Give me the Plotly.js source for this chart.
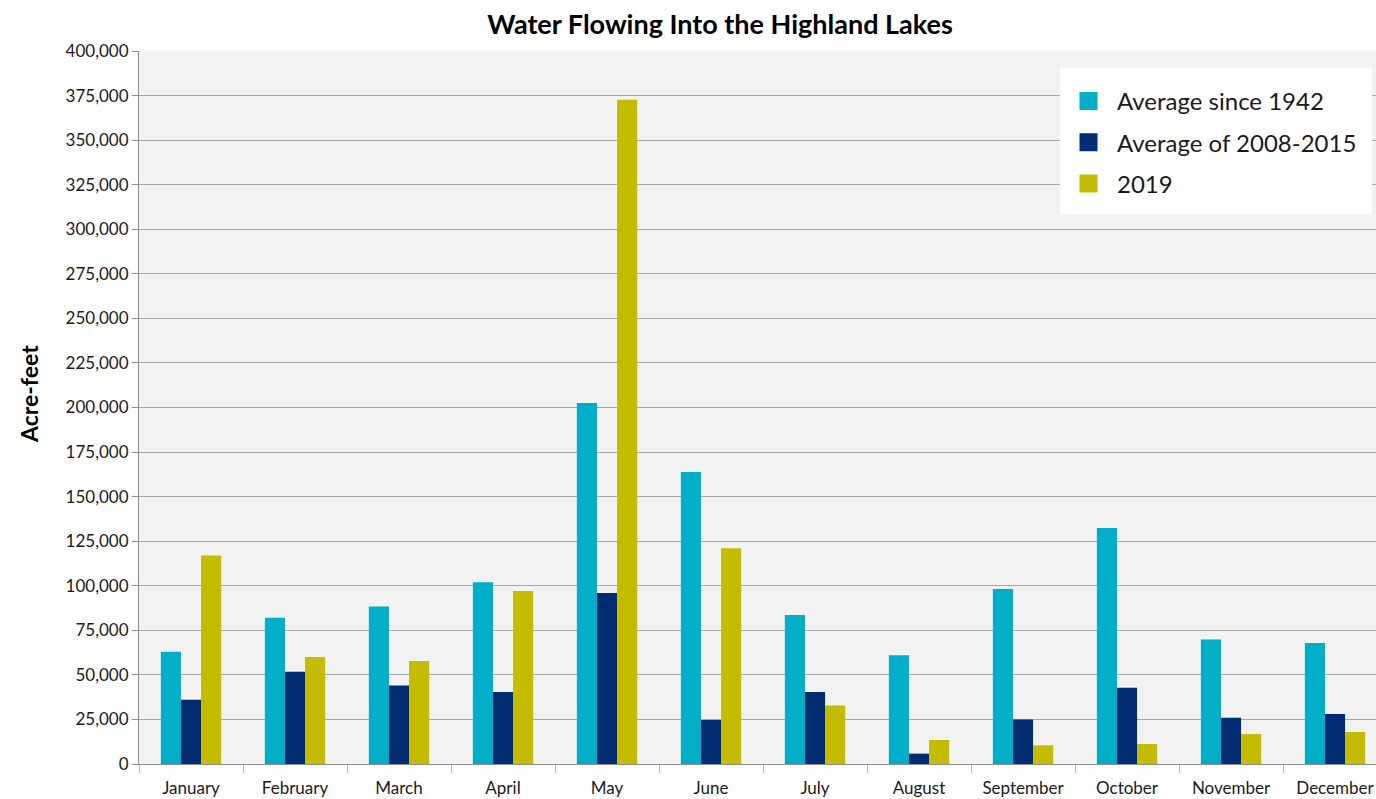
<!DOCTYPE html>
<html>
<head>
<meta charset="utf-8">
<script src="https://cdn.plot.ly/plotly-3.0.1.min.js"></script>
<style>html,body{margin:0;padding:0;background:#fff;}#chart{width:1376px;height:799px;}</style>
</head>
<body>
<div id="chart"></div>
<script>
const months = ["January","February","March","April","May","June","July","August","September","October","November","December"];
const avgSince1942 = [63000, 82000, 88300, 102000, 202500, 163800, 83600, 61000, 98200, 132400, 69800, 67900];
const avg2008to2015 = [36000, 51800, 44100, 40400, 96000, 24700, 40400, 5800, 25000, 42800, 26000, 28000];
const y2019 = [117000, 60000, 57800, 97000, 372700, 121000, 32800, 13500, 10500, 11200, 16800, 18000];
const seriesNames = ["Average since 1942", "Average of 2008-2015", "2019"];
const seriesColors = ["#00AEC7", "#002D72", "#C4BC00"];

const FONT = "Lato, 'Noto Sans', sans-serif";
const bars = [avgSince1942, avg2008to2015, y2019].map((vals, i) => ({
  type: "bar",
  x: months,
  y: vals,
  name: seriesNames[i],
  legendgroup: "g" + i,
  showlegend: false,
  marker: {color: seriesColors[i], line: {width: 0}},
  hoverinfo: "x+y+name"
}));
// legend-only entries (larger square swatches)
const legendEntries = seriesNames.map((n, i) => ({
  type: "scatter",
  mode: "markers",
  x: [null],
  y: [null],
  name: n,
  legendgroup: "g" + i,
  showlegend: true,
  marker: {symbol: "square", size: 20, color: seriesColors[i], line: {width: 2, color: seriesColors[i]}},
  hoverinfo: "skip"
}));
const data = bars.concat(legendEntries);

const L = 139, R = 1376, T = 51, B = 764;
const px = v => (v - L) / (R - L);
const py = v => (B - v) / (B - T);
const layout = {
  width: 1376,
  height: 799,
  margin: {l: L, r: 1376 - R, t: T, b: 799 - B},
  paper_bgcolor: "#ffffff",
  plot_bgcolor: "#F2F2F2",
  barmode: "group",
  bargap: 0.42,
  bargroupgap: 0,
  font: {family: FONT, color: "#1a1a1a", size: 16},
  title: {
    text: "<b>Water Flowing Into the Highland Lakes</b>",
    font: {family: FONT, size: 27, color: "#000000"},
    x: 720/1376, xanchor: "center", xref: "container",
    y: 1 - 25/799, yanchor: "middle", yref: "container"
  },
  xaxis: {
    type: "category",
    categoryorder: "array",
    categoryarray: months,
    range: [-0.5, 11.394],
    showgrid: false,
    showline: true,
    linecolor: "#8c8c8c",
    linewidth: 1,
    ticks: "outside",
    tickson: "boundaries",
    ticklen: 8,
    tickcolor: "#bfbfbf",
    ticklabelstandoff: 9,
    tickfont: {family: FONT, size: 17, color: "#1a1a1a"},
    fixedrange: true
  },
  yaxis: {
    range: [0, 400000],
    dtick: 25000,
    tick0: 0,
    tickformat: ",d",
    showgrid: true,
    gridcolor: "#A6A6A6",
    gridwidth: 1,
    zeroline: false,
    showline: true,
    linecolor: "#8c8c8c",
    linewidth: 1,
    ticks: "outside",
    ticklen: 6,
    tickcolor: "#8c8c8c",
    tickfont: {family: FONT, size: 17, color: "#1a1a1a"},
    fixedrange: true
  },
  shapes: [{
    type: "rect", layer: "above",
    xref: "paper", yref: "paper",
    x0: px(1060), x1: px(1372), y0: py(214), y1: py(68),
    fillcolor: "#ffffff", line: {width: 0}
  }],
  annotations: [{
    text: "<b>Acre-feet</b>",
    textangle: -90,
    xref: "paper", yref: "paper",
    x: px(29), y: py(394),
    xanchor: "center", yanchor: "middle",
    showarrow: false,
    font: {family: FONT, size: 23, color: "#000000"}
  }],
  legend: {
    x: px(1060), xref: "paper", xanchor: "left",
    y: py(79), yanchor: "top",
    bgcolor: "rgba(0,0,0,0)",
    borderwidth: 0,
    font: {family: FONT, size: 24, color: "#1a1a1a"},
    itemwidth: 47,
    itemsizing: "trace",
    tracegroupgap: 7
  },
  showlegend: true
};

Plotly.newPlot("chart", data, layout, {displayModeBar: false, staticPlot: true});
</script>
</body>
</html>
